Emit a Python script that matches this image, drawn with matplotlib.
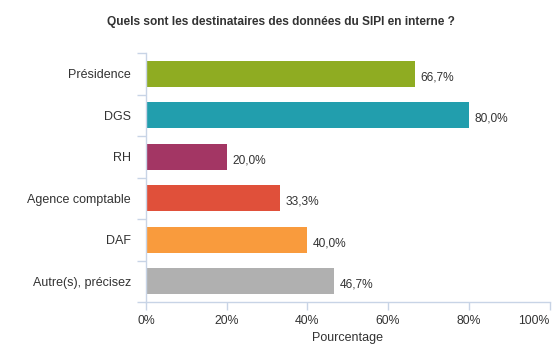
import numpy as np
import matplotlib
matplotlib.use('Agg')
from matplotlib import pyplot as plt

categories = ['Présidence', 'DGS', 'RH', 'Agence comptable', 'DAF', 'Autre(s), précisez']
values = [66.7, 80.0, 20.0, 33.3, 40.0, 46.7]
colors = ['#8fac22', '#229ead', '#a33664', '#e0503a', '#f99b3d', '#b0b0b0']
xticks = [0, 20, 40, 60, 80, 100]

plt.rcParams['font.family'] = ['Liberation Sans', 'DejaVu Sans']
txtCol = '#333333'
axCol = '#c8d4e6'

W, H = 560, 355
fig = plt.figure(figsize=(W/100, H/100), dpi=100)
ax = fig.add_axes([146/W, 1-302/H, (549.5-146)/W, (302-53)/H])

pos = np.arange(len(categories))
ax.barh(pos, values, height=0.63, color=colors, zorder=2)
for p, v in zip(pos, values):
    lbl = ('%.1f%%' % v).replace('.', ',')
    ax.text(v + 1.3, p + 0.08, lbl, va='center', ha='left', fontsize=8.6, color=txtCol)

ax.set_xlim(0, 100)
ax.set_ylim(len(categories) - 0.5, -0.5)
ax.set_xticks(xticks)
ax.set_xticklabels(['%d%%' % t for t in xticks])
ax.get_xticklabels()[-1].set_ha('right')
ax.set_yticks(pos)
ax.set_yticklabels(categories)
ax.set_yticks(np.arange(len(categories) + 1) - 0.5, minor=True)

for s in ['top', 'right']:
    ax.spines[s].set_visible(False)
for s in ['left', 'bottom']:
    ax.spines[s].set_color(axCol)
    ax.spines[s].set_linewidth(1)

ax.tick_params(axis='y', which='major', length=0, pad=10.8, labelsize=9, labelcolor=txtCol)
ax.tick_params(axis='y', which='minor', length=6.5, width=1, color=axCol)
ax.tick_params(axis='x', length=6, width=1, color=axCol, pad=3, labelsize=8.8, labelcolor=txtCol)

ax.set_xlabel('Pourcentage', fontsize=9, color=txtCol, labelpad=4)
fig.text(281/W, 1-22/H, 'Quels sont les destinataires des données du SIPI en interne ?',
         ha='center', va='center', fontsize=8.6, fontweight='bold', color=txtCol)

fig.savefig('out.png', dpi=100)
plt.close()
